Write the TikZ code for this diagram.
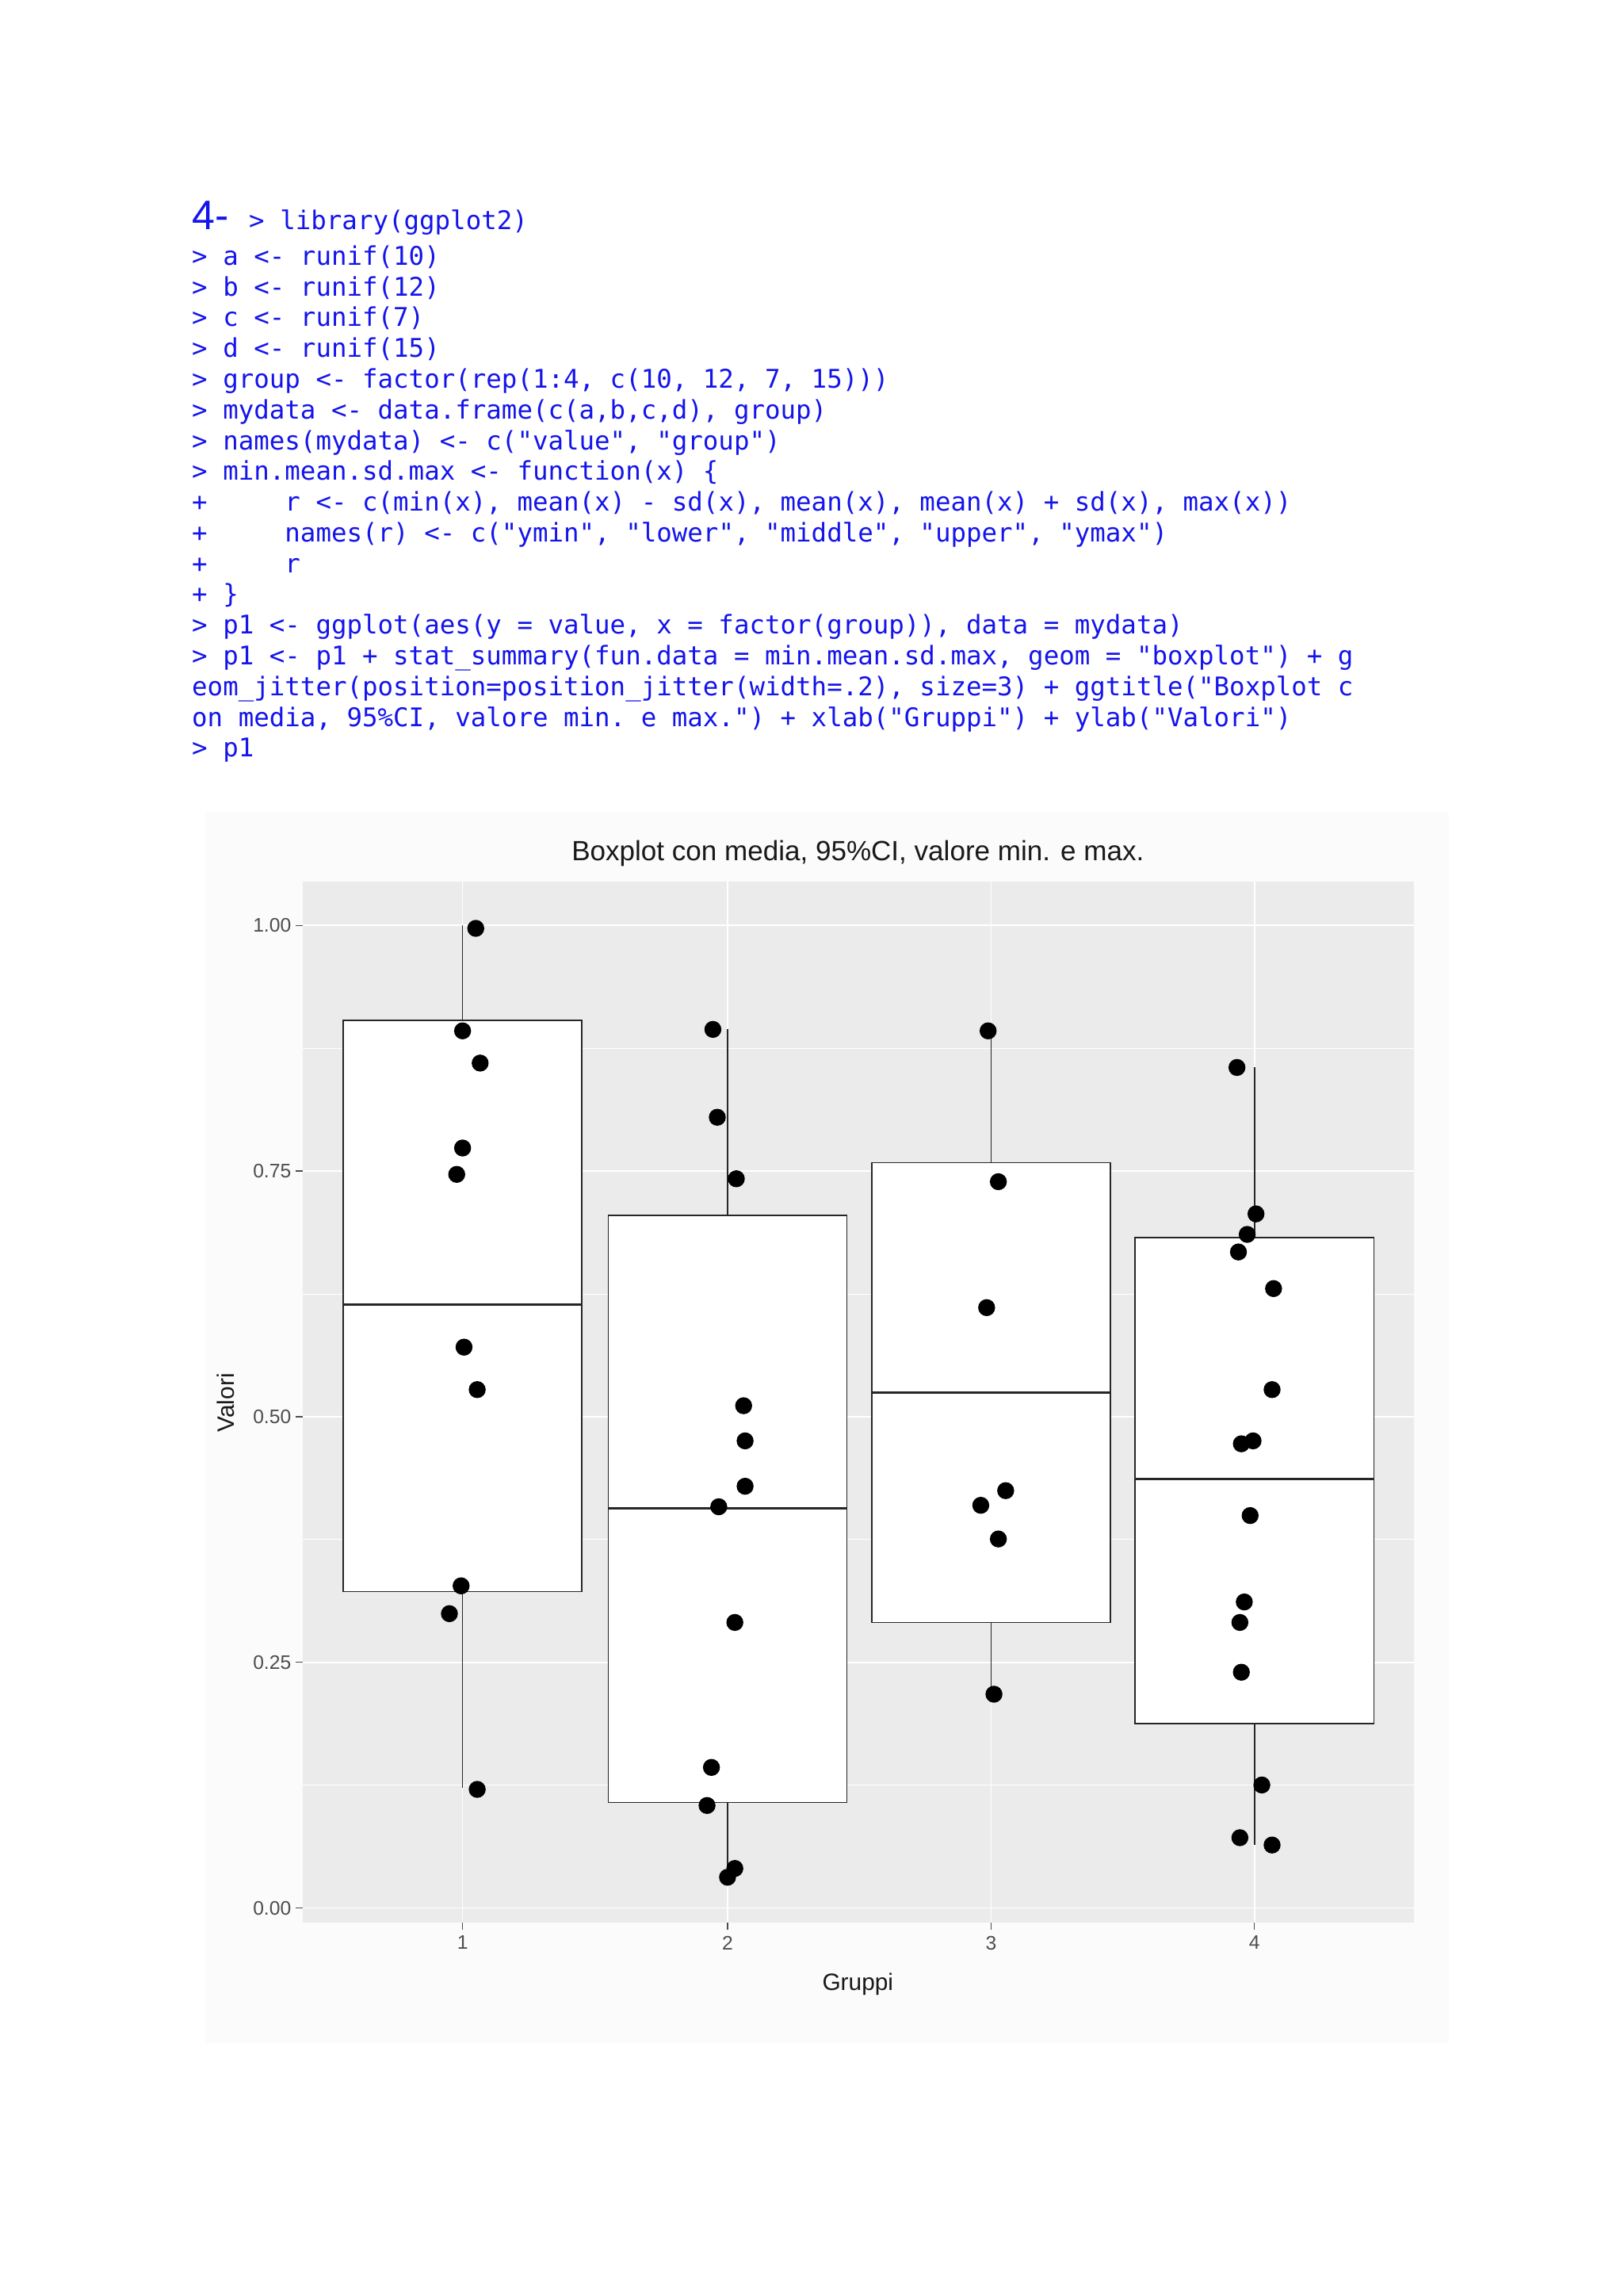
\documentclass[tikz,border=0pt]{standalone}
\usepackage{fontspec}
\setmainfont{Liberation Sans}
\setmonofont{DejaVu Sans Mono}
\definecolor{codeblue}{RGB}{20,20,235}
\definecolor{panel}{RGB}{235,235,235}
\definecolor{ticktxt}{RGB}{77,77,77}
\begin{document}
\begin{tikzpicture}[x=0.05cm,y=-0.05cm,
 code/.style={anchor=base west,inner sep=0,text=codeblue,font=\ttfamily\fontsize{25}{25}\selectfont},
 tick/.style={anchor=east,inner sep=0,text=ticktxt,font=\fontsize{19}{19}\selectfont},
 xtick/.style={anchor=north,inner sep=0,text=ticktxt,font=\fontsize{19}{19}\selectfont},
 bx/.style={draw=black!85,fill=white,line width=1.3pt},
 wh/.style={draw=black!85,line width=1.3pt},
 pt/.style={fill=black,draw=none}]
\useasboundingbox[fill=white] (0,0) rectangle (1109,1568);
% code
\node[anchor=base west,inner sep=0,text=codeblue,font=\fontsize{40}{40}\selectfont] (four) at (131,157) {4-};
\node[code] (l0) at (170,157) {> library(ggplot2)};
\newcommand{\cln}[3]{\node[code] (#1) at (131,#2) {#3};}
\cln{l1}{181}{> a <- runif(10)}
\cln{l2}{202}{> b <- runif(12)}
\cln{l3}{223}{> c <- runif(7)}
\cln{l4}{244}{> d <- runif(15)}
\cln{l5}{265}{> group <- factor(rep(1:4, c(10, 12, 7, 15)))}
\cln{l6}{286}{> mydata <- data.frame(c(a,b,c,d), group)}
\cln{l7}{307}{> names(mydata) <- c("value", "group")}
\cln{l8}{328}{> min.mean.sd.max <- function(x) \{}
\cln{l9}{349}{+\ \ \ \ \ r <- c(min(x), mean(x) - sd(x), mean(x), mean(x) + sd(x), max(x))}
\cln{l10}{370}{+\ \ \ \ \ names(r) <- c("ymin", "lower", "middle", "upper", "ymax")}
\cln{l11}{391}{+\ \ \ \ \ r}
\cln{l12}{412}{+ \}}
\cln{l13}{433}{> p1 <- ggplot(aes(y = value, x = factor(group)), data = mydata)}
\cln{l14}{454}{> p1 <- p1 + stat\_summary(fun.data = min.mean.sd.max, geom = "boxplot") + g}
\cln{l15}{475}{eom\_jitter(position=position\_jitter(width=.2), size=3) + ggtitle("Boxplot c}
\cln{l16}{496}{on media, 95\%CI, valore min. e max.") + xlab("Gruppi") + ylab("Valori")}
\cln{l17}{517}{> p1}
% plot background
\fill[black!1.5] (140,555) rectangle (990,1395);
\fill[panel] (207,602) rectangle (966,1313);
% grid
\foreach \v in {0.125,0.375,0.625,0.875}
  \draw[white,line width=0.6pt] (207,{1303-671*\v}) -- (966,{1303-671*\v});
\foreach \v/\l in {0/0.00,0.25/0.25,0.5/0.50,0.75/0.75,1/1.00}{
  \draw[white,line width=1.3pt] (207,{1303-671*\v}) -- (966,{1303-671*\v});
  \draw[ticktxt,line width=1pt] (202,{1303-671*\v}) -- (207,{1303-671*\v});
  \node[tick] at (199,{1303-671*\v}) {\l};}
\foreach \x/\l in {316/1,497/2,677/3,857/4}{
  \draw[white,line width=1.3pt] (\x,602) -- (\x,1313);
  \draw[ticktxt,line width=1pt] (\x,1313) -- (\x,1318);
  \node[xtick] at (\x,1322) {\l};}
% boxes
\foreach \x/\t/\b/\m/\wt/\wb in {316/697/1087/891/632/1221, 497/830/1231/1030/703/1280, 677/794/1108/951/704/1157, 857/845/1177/1010/729/1260}{
  \draw[wh] (\x,\wt) -- (\x,\wb);
  \draw[bx] (\x-81.5,\t) rectangle (\x+81.5,\b);
  \draw[wh,line width=2pt] (\x-81.5,\m) -- (\x+81.5,\m);}
% points
\foreach \p in {(325,634),(316,704),(328,726),(316,784),(312,802),(317,920),(326,949),(315,1083),(307,1102),(326,1222),
 (487,703),(490,763),(503,805),(508,960),(509,984),(509,1015),(491,1029),(502,1108),(486,1207),(483,1233),(502,1276),(497,1282),
 (675,704),(682,807),(674,893),(670,1028),(687,1018),(682,1051),(679,1157),
 (845,729),(858,829),(852,843),(846,855),(870,880),(869,949),(848,986),(856,984),(854,1035),(850,1094),(847,1108),(848,1142),(862,1219),(847,1255),(869,1260)}
  \fill[pt] \p circle (5.8);
% titles
\node[font=\fontsize{27}{27}\selectfont,text=black!90] (title) at (586,583) {Boxplot con media, 95\%CI, valore min. e max.};
\node[font=\fontsize{23}{23}\selectfont,text=black!90] (xl) at (586,1355) {Gruppi};
\node[font=\fontsize{23}{23}\selectfont,text=black!90,rotate=90] (yl) at (154,958) {Valori};
\end{tikzpicture}
\end{document}
